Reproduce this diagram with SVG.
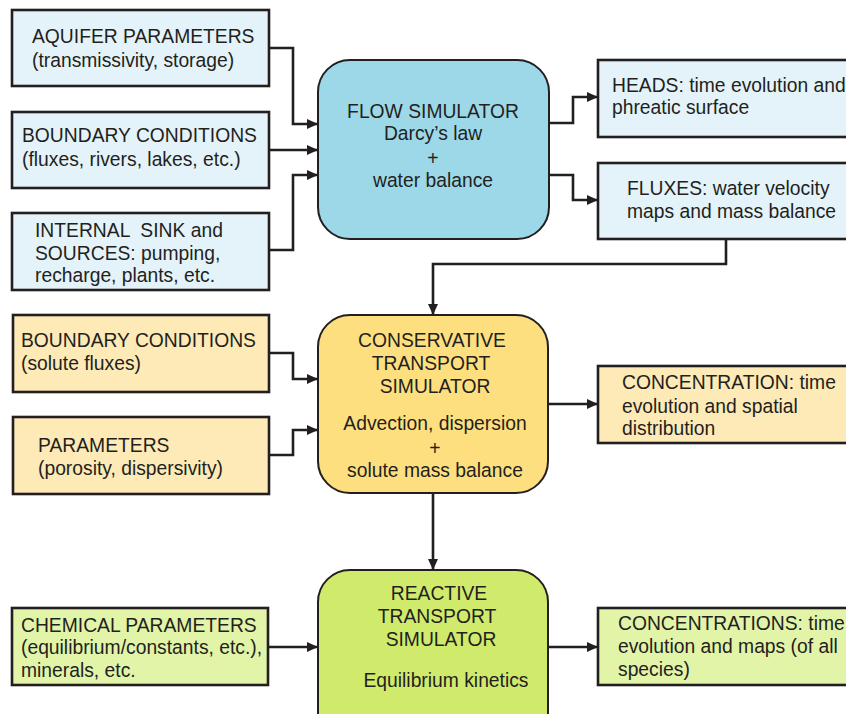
<svg xmlns="http://www.w3.org/2000/svg" width="846" height="714" viewBox="0 0 846 714">
<defs>
<marker id="ah" viewBox="0 0 11 10" refX="11" refY="5" markerWidth="11" markerHeight="10" markerUnits="userSpaceOnUse" orient="auto">
<path d="M0,0 L11,5 L0,10 z" fill="#231f20"/>
</marker>
</defs>
<style>
.box{stroke:#231f20;stroke-width:2.6}
.sim{stroke:#231f20;stroke-width:2}
.blue{fill:#e3f3f9}
.blueS{fill:#9dd8e9}
.yel{fill:#fdeab6}
.yelS{fill:#fedf7f}
.grn{fill:#e2f4a8}
.grnS{fill:#d0eb6c}
text{font-family:"Liberation Sans",Arial,sans-serif;font-size:19.3px;fill:#231f20}
.c{text-anchor:middle}
.conn{fill:none;stroke:#231f20;stroke-width:2.6;marker-end:url(#ah)}
</style>

<g id="connectors">
<polyline class="conn" points="269,48 293,48 293,124 318,124"/>
<polyline class="conn" points="269,150 318,150"/>
<polyline class="conn" points="269,250 293,250 293,175 318,175"/>
<polyline class="conn" points="549,123 573,123 573,97 598,97"/>
<polyline class="conn" points="549,175 573,175 573,200 598,200"/>
<polyline class="conn" points="726,239 726,264 433,264 433,315"/>
<polyline class="conn" points="269,353 293,353 293,379 318,379"/>
<polyline class="conn" points="269,455 293,455 293,430 318,430"/>
<polyline class="conn" points="548,404 598,404"/>
<polyline class="conn" points="433,493 433,570"/>
<polyline class="conn" points="268,647 318,647"/>
<polyline class="conn" points="548,647 598,647"/>
</g>

<g id="aquifer">
<rect class="box blue" x="12" y="10" width="257" height="76"/>
<text x="32" y="43">AQUIFER PARAMETERS</text>
<text x="32" y="67">(transmissivity, storage)</text>
</g>
<g id="boundary-flow">
<rect class="box blue" x="12" y="112" width="257" height="76"/>
<text x="22" y="142">BOUNDARY CONDITIONS</text>
<text x="22" y="166">(fluxes, rivers, lakes, etc.)</text>
</g>
<g id="sinks">
<rect class="box blue" x="12" y="213" width="257" height="77"/>
<text x="35" y="237" style="white-space:pre">INTERNAL  SINK and</text>
<text x="35" y="260">SOURCES: pumping,</text>
<text x="35" y="282">recharge, plants, etc.</text>
</g>
<g id="flow-sim">
<rect class="sim blueS" x="318" y="60" width="231" height="179" rx="32" ry="32"/>
<text class="c" x="433" y="118">FLOW SIMULATOR</text>
<text class="c" x="433" y="140">Darcy’s law</text>
<text class="c" x="433" y="165">+</text>
<text class="c" x="433" y="187">water balance</text>
</g>
<g id="heads">
<rect class="box blue" x="598" y="60" width="262" height="77"/>
<text x="612" y="92">HEADS: time evolution and</text>
<text x="612" y="114">phreatic surface</text>
</g>
<g id="fluxes">
<rect class="box blue" x="598" y="163" width="262" height="76"/>
<text x="627" y="195">FLUXES: water velocity</text>
<text x="627" y="218">maps and mass balance</text>
</g>

<g id="boundary-solute">
<rect class="box yel" x="13" y="315" width="256" height="77"/>
<text x="21" y="347">BOUNDARY CONDITIONS</text>
<text x="21" y="370">(solute fluxes)</text>
</g>
<g id="parameters">
<rect class="box yel" x="13" y="417" width="256" height="77"/>
<text x="38" y="452">PARAMETERS</text>
<text x="38" y="475">(porosity, dispersivity)</text>
</g>
<g id="conservative-sim">
<rect class="sim yelS" x="318" y="315" width="230" height="178" rx="32" ry="32"/>
<text class="c" x="432" y="347">CONSERVATIVE</text>
<text class="c" x="431" y="370">TRANSPORT</text>
<text class="c" x="435" y="393">SIMULATOR</text>
<text class="c" x="435" y="430">Advection, dispersion</text>
<text class="c" x="435" y="455">+</text>
<text class="c" x="435" y="477">solute mass balance</text>
</g>
<g id="concentration">
<rect class="box yel" x="598" y="366" width="262" height="77"/>
<text x="622" y="389">CONCENTRATION: time</text>
<text x="622" y="413">evolution and spatial</text>
<text x="622" y="435">distribution</text>
</g>

<g id="chemical">
<rect class="box grn" x="12" y="608" width="256" height="77"/>
<text x="21" y="632">CHEMICAL PARAMETERS</text>
<text x="21" y="654">(equilibrium/constants, etc.),</text>
<text x="21" y="677">minerals, etc.</text>
</g>
<g id="reactive-sim">
<rect class="sim grnS" x="318" y="570" width="230" height="178" rx="32" ry="32"/>
<text class="c" x="439" y="600">REACTIVE</text>
<text class="c" x="437" y="623">TRANSPORT</text>
<text class="c" x="441" y="646">SIMULATOR</text>
<text class="c" x="446" y="687">Equilibrium kinetics</text>
</g>
<g id="concentrations">
<rect class="box grn" x="598" y="608" width="262" height="77"/>
<text x="618" y="630">CONCENTRATIONS: time</text>
<text x="618" y="653">evolution and maps (of all</text>
<text x="618" y="676">species)</text>
</g>
</svg>
